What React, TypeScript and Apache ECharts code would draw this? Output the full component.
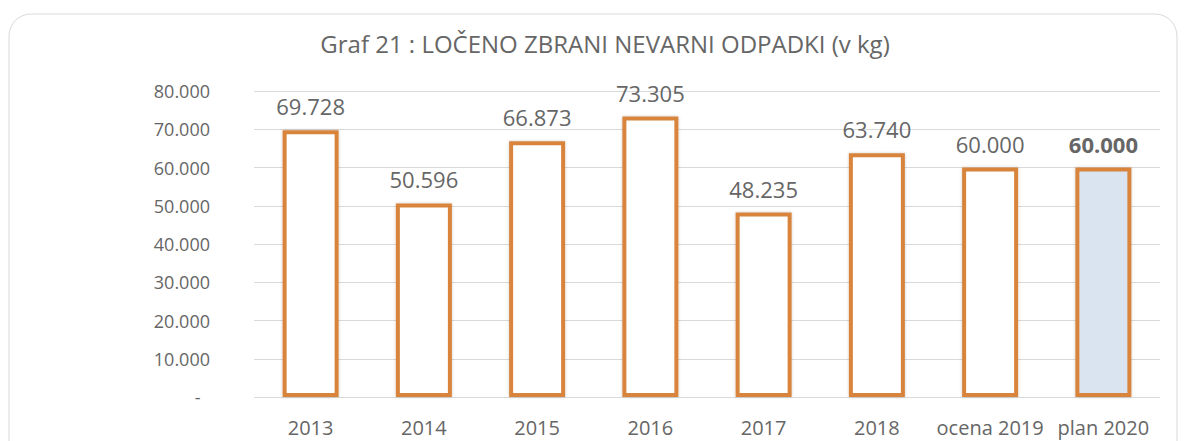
import React, { useEffect, useRef } from "react";
import * as echarts from "echarts";

const categories = ["2013", "2014", "2015", "2016", "2017", "2018", "ocena 2019", "plan 2020"];
const values = [69728, 50596, 66873, 73305, 48235, 63740, 60000, 60000];
const titleText = "Graf 21 : LOČENO ZBRANI NEVARNI ODPADKI (v kg)";

const FONT = "'Open Sans', 'Noto Sans', sans-serif";
const GRAY = "#666666";
const ORANGE = "#d8843c";

const fmt = (v: number) => {
  if (v === 0) return "-  ";
  return Math.round(v).toString().replace(/\B(?=(\d{3})+(?!\d))/g, ".");
};

export default function App() {
  const ref = useRef<HTMLDivElement>(null);
  useEffect(() => {
    if (!ref.current) return;
    const chart = echarts.init(ref.current, undefined, { renderer: "svg" });
    const last = values.length - 1;
    chart.setOption({
      animation: false,
      backgroundColor: "#fff",
      title: {
        text: titleText,
        left: 592,
        top: 18,
        textAlign: "center",
        textStyle: { fontFamily: FONT, fontSize: 24, fontWeight: "normal", color: GRAY },
      },
      graphic: [
        {
          type: "rect",
          shape: { x: 1, y: 6, width: 1168, height: 470, r: 22 },
          style: { fill: "none", stroke: "#d9d9d9", lineWidth: 1 },
          silent: true,
          z: -1,
        },
      ],
      grid: { left: 246, right: 18, top: 83, bottom: 44, containLabel: false },
      xAxis: {
        type: "category",
        data: categories,
        axisLine: { show: false },
        axisTick: { show: false },
        axisLabel: {
          color: GRAY,
          fontFamily: FONT,
          fontSize: 20,
          margin: 20,
          interval: 0,
          hideOverlap: false,
        },
      },
      yAxis: {
        type: "value",
        min: 0,
        max: 80000,
        interval: 10000,
        axisLine: { show: false },
        axisTick: { show: false },
        splitLine: { lineStyle: { color: "#d9d9d9", width: 1 } },
        axisLabel: {
          color: GRAY,
          fontFamily: FONT,
          fontSize: 18,
          margin: 44,
          formatter: (v: number) => fmt(v),
        },
      },
      series: [
        {
          type: "bar",
          barWidth: 56,
          data: values.map((v, i) => ({
            value: v,
            itemStyle: {
              color: i === last ? "#dae3f0" : "#ffffff",
              borderColor: ORANGE,
              borderWidth: 4,
              shadowBlur: 3,
              shadowColor: "rgba(0,0,0,0.2)",
            },
            label: {
              show: true,
              position: "top",
              distance: 13,
              color: GRAY,
              fontFamily: FONT,
              fontSize: 22,
              fontWeight: i === last ? "bold" : "normal",
              formatter: () => fmt(v),
            },
          })),
        },
      ],
    });
    return () => chart.dispose();
  }, []);
  return <div ref={ref} style={{ width: 1170, height: 433 }} />;
}
